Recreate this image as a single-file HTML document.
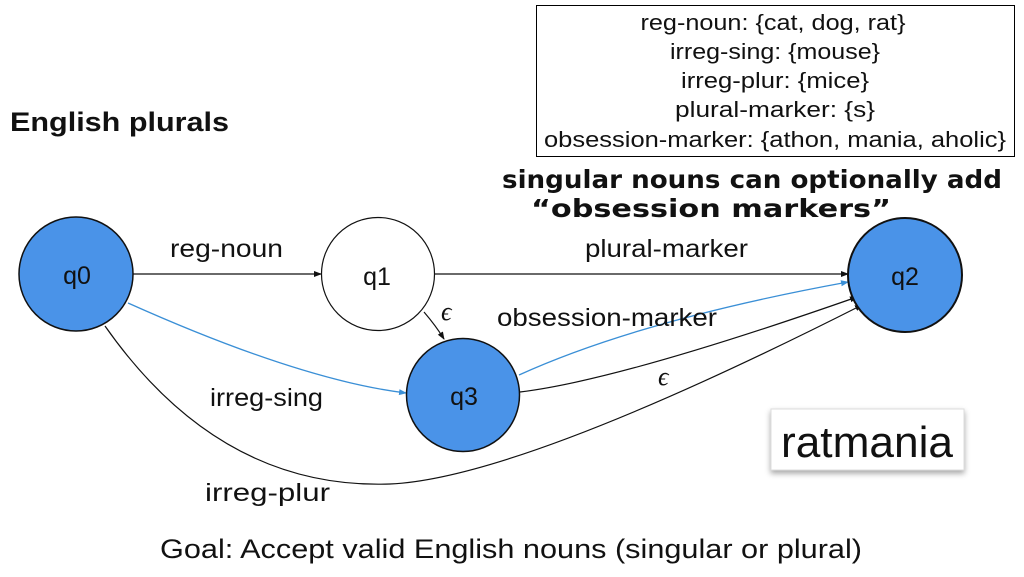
<!DOCTYPE html>
<html><head><meta charset="utf-8"><style>
html,body{margin:0;padding:0;background:#fff;}
body{width:1024px;height:577px;overflow:hidden;position:relative;font-family:"Liberation Sans",sans-serif;}
</style></head><body>
<svg width="1024" height="577" xmlns="http://www.w3.org/2000/svg" style="position:absolute;left:0;top:0">
<defs>
<marker id="a" markerWidth="8" markerHeight="8" refX="7" refY="4" orient="auto" markerUnits="userSpaceOnUse"><path d="M0,1 L8,4 L0,7 z" fill="#111"/></marker>
<marker id="b" markerWidth="8" markerHeight="8" refX="7" refY="4" orient="auto" markerUnits="userSpaceOnUse"><path d="M0,1 L8,4 L0,7 z" fill="#3a8fd6"/></marker>
<filter id="sh" x="-10%" y="-10%" width="120%" height="140%"><feDropShadow dx="0" dy="3" stdDeviation="3" flood-color="#000" flood-opacity="0.35"/></filter>
</defs>
<rect x="536.5" y="5.5" width="478" height="151" fill="#fff" stroke="#000" stroke-width="1"/>
<g font-size="22" text-anchor="middle" fill="#111" lengthAdjust="spacingAndGlyphs">
<text x="773" y="30" textLength="265" lengthAdjust="spacingAndGlyphs">reg-noun: {cat, dog, rat}</text>
<text x="775" y="59" textLength="210" lengthAdjust="spacingAndGlyphs">irreg-sing: {mouse}</text>
<text x="775" y="88" textLength="188" lengthAdjust="spacingAndGlyphs">irreg-plur: {mice}</text>
<text x="775" y="117" textLength="200" lengthAdjust="spacingAndGlyphs">plural-marker: {s}</text>
<text x="775" y="147" textLength="462" lengthAdjust="spacingAndGlyphs">obsession-marker: {athon, mania, aholic}</text>
</g>
<text x="10" y="131" font-size="27" font-weight="bold" fill="#111" textLength="219" lengthAdjust="spacingAndGlyphs">English plurals</text>
<g font-size="25" font-weight="bold" fill="#111" text-anchor="middle" font-family="'DejaVu Sans',sans-serif">
<text x="752" y="188" textLength="500" lengthAdjust="spacingAndGlyphs">singular nouns can optionally add</text>
<text x="711" y="217" textLength="360" lengthAdjust="spacingAndGlyphs">“obsession markers”</text>
</g>
<!-- edges -->
<line x1="133" y1="274" x2="321" y2="274" stroke="#111" stroke-width="1.2" marker-end="url(#a)"/>
<line x1="435" y1="274" x2="848" y2="274" stroke="#111" stroke-width="1.2" marker-end="url(#a)"/>
<path d="M424,312 Q436,326 444,339" fill="none" stroke="#111" stroke-width="1.2" marker-end="url(#a)"/>
<path d="M128,303 Q300,380 406,393" fill="none" stroke="#3a8fd6" stroke-width="1.3" marker-end="url(#b)"/>
<path d="M519,375 Q640,320 848,282" fill="none" stroke="#3a8fd6" stroke-width="1.3" marker-end="url(#b)"/>
<path d="M520,392 Q620,380 857,297" fill="none" stroke="#111" stroke-width="1.2" marker-end="url(#a)"/>
<path d="M105,326 Q220,490 390,484 Q520,478 862,305" fill="none" stroke="#111" stroke-width="1.2" marker-end="url(#a)"/>
<!-- nodes -->
<circle cx="76" cy="274" r="57" fill="#4a93e8" stroke="#111" stroke-width="1.5"/>
<circle cx="378" cy="274" r="56.5" fill="#fff" stroke="#111" stroke-width="1.2"/>
<circle cx="905" cy="275" r="57" fill="#4a93e8" stroke="#111" stroke-width="2"/>
<circle cx="463" cy="395" r="56.5" fill="#4a93e8" stroke="#111" stroke-width="1.5"/>
<g font-size="25" fill="#111" text-anchor="middle">
<text x="77" y="284">q0</text>
<text x="377" y="285">q1</text>
<text x="905" y="285">q2</text>
<text x="464" y="405">q3</text>
</g>
<g font-size="25" fill="#111">
<text x="170" y="257" textLength="113" lengthAdjust="spacingAndGlyphs">reg-noun</text>
<text x="585" y="257" textLength="163" lengthAdjust="spacingAndGlyphs">plural-marker</text>
<text x="497" y="326" textLength="220" lengthAdjust="spacingAndGlyphs">obsession-marker</text>
<text x="210" y="406" textLength="113" lengthAdjust="spacingAndGlyphs">irreg-sing</text>
<text x="205" y="501" textLength="125" lengthAdjust="spacingAndGlyphs">irreg-plur</text>
</g>
<g font-size="26" font-style="italic" font-family="'Liberation Serif',serif" fill="#111">
<text x="441" y="320">ϵ</text>
<text x="658" y="385">ϵ</text>
</g>
<rect x="771" y="409" width="193" height="61" fill="#fff" stroke="#ddd" filter="url(#sh)"/>
<text x="867" y="457" font-size="44" text-anchor="middle" fill="#111" textLength="172" lengthAdjust="spacingAndGlyphs">ratmania</text>
<text x="511" y="558" font-size="27" text-anchor="middle" fill="#111" textLength="702" lengthAdjust="spacingAndGlyphs">Goal: Accept valid English nouns (singular or plural)</text>
</svg>
</body></html>
